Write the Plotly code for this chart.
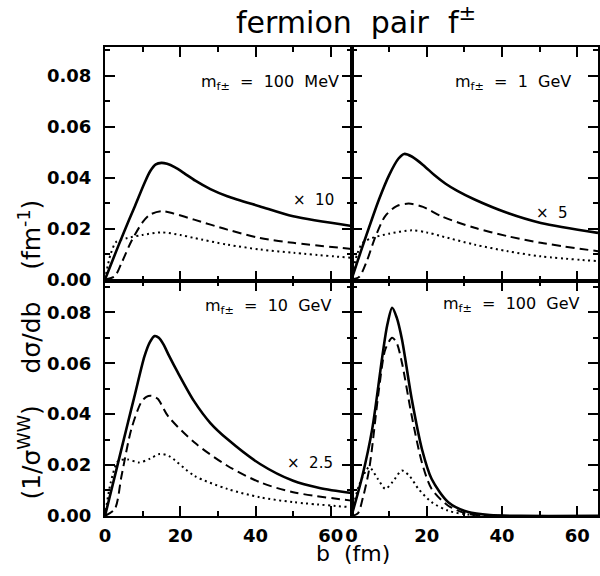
import plotly.graph_objects as go

# ---------------- data ----------------
# panel 1: m = 100 MeV
b1_solid = [0, 2, 5, 8, 10.5, 12, 13.5, 15, 16.5, 18.5, 21, 24, 28, 32.5, 41.2, 50, 65.5]
y1_solid = [0, 0.0075, 0.0185, 0.029, 0.0379, 0.0425, 0.0452, 0.0458, 0.0454, 0.0441, 0.0418, 0.0388, 0.0355, 0.0327, 0.0287, 0.0248, 0.021]
b1_dash = [0, 2.6, 4.4, 7, 10, 12, 15, 18, 23.7, 32.5, 41.2, 50, 65.5]
y1_dash = [0, 0.0013, 0.0065, 0.015, 0.0225, 0.0255, 0.0268, 0.026, 0.0235, 0.0196, 0.0163, 0.0144, 0.012]
b1_dot = [0, 1.5, 3, 6, 10, 15, 20, 23.7, 32.5, 41.2, 50, 65.5]
y1_dot = [0, 0.010, 0.0148, 0.0163, 0.0175, 0.0185, 0.0175, 0.0163, 0.0137, 0.0118, 0.0105, 0.0085]

# panel 2: m = 1 GeV
b2_solid = [0, 3, 7.3, 10, 12.5, 14, 16, 19, 22, 25, 28, 32.7, 41.5, 50.3, 65.5]
y2_solid = [0, 0.0133, 0.0314, 0.041, 0.0475, 0.0493, 0.0483, 0.045, 0.041, 0.0376, 0.0349, 0.0314, 0.0261, 0.0222, 0.0183]
b2_dash = [0, 2, 4, 6.4, 9, 12, 15.2, 19, 23.9, 32.7, 41.5, 50.3, 65.5]
y2_dash = [0, 0.001, 0.007, 0.017, 0.025, 0.0288, 0.0298, 0.0285, 0.0248, 0.0203, 0.017, 0.0144, 0.0111]
b2_dot = [0, 1.5, 3, 5.5, 10, 16, 20, 23.9, 32.7, 41.5, 50.3, 65.5]
y2_dot = [0, 0.010, 0.0145, 0.0163, 0.018, 0.0193, 0.0185, 0.017, 0.0137, 0.0111, 0.0091, 0.0072]

# panel 3: m = 10 GeV
b3_solid = [0, 3, 6.1, 8, 10.5, 12, 13.2, 14.3, 15.5, 17, 19.3, 23.7, 28, 32.5, 41.2, 50, 57, 65.5]
y3_solid = [0, 0.018, 0.0367, 0.048, 0.0628, 0.0685, 0.0707, 0.07, 0.0675, 0.063, 0.0565, 0.045, 0.0365, 0.0302, 0.0204, 0.0138, 0.011, 0.009]
b3_dash = [0, 2.6, 4.4, 7, 9.6, 11, 12.3, 14, 16.7, 23.7, 32.5, 41.2, 50, 65.5]
y3_dash = [0, 0.0027, 0.0158, 0.0341, 0.0446, 0.0468, 0.0472, 0.046, 0.0393, 0.0289, 0.0197, 0.0132, 0.0093, 0.006]
b3_dot = [0, 1.5, 3.5, 6, 9, 12, 14.5, 17, 23.7, 32.5, 41.2, 50, 65.5]
y3_dot = [0, 0.013, 0.0215, 0.0222, 0.021, 0.0225, 0.0243, 0.0235, 0.0158, 0.0106, 0.0073, 0.0054, 0.0034]

# panel 4: m = 100 GeV
b4_solid = [0, 2.9, 5.5, 8.2, 9.5, 10.8, 12, 13.4, 16, 18.7, 21.3, 25.7, 31, 36.8, 45, 65.5]
y4_solid = [0, 0.0158, 0.0341, 0.0628, 0.075, 0.0818, 0.078, 0.0694, 0.0459, 0.0263, 0.0145, 0.0054, 0.0015, 0.0003, 0, 0]
b4_dash = [0, 1.7, 3, 4.7, 7.3, 9, 10.8, 12, 13.4, 16, 18.7, 21.3, 25.7, 31, 40, 65.5]
y4_dash = [0, 0.001, 0.007, 0.0184, 0.0498, 0.0655, 0.070, 0.068, 0.0602, 0.0393, 0.021, 0.0106, 0.004, 0.0008, 0, 0]
b4_dot = [0, 2, 4.7, 7, 9, 11, 13.4, 15.5, 17.8, 21.3, 25.7, 31, 40, 65.5]
y4_dot = [0, 0.012, 0.0191, 0.0145, 0.0106, 0.0135, 0.0178, 0.0155, 0.0106, 0.0054, 0.002, 0.0005, 0, 0]

mass_labels = ["m<sub>f±</sub>\u00a0 =\u00a0 100\u00a0 MeV", "m<sub>f±</sub>\u00a0 =\u00a0 1\u00a0 GeV",
               "m<sub>f±</sub>\u00a0 =\u00a0 10\u00a0 GeV", "m<sub>f±</sub>\u00a0 =\u00a0 100\u00a0 GeV"]
scale_labels = ["×\u00a0 10", "×\u00a0 5", "×\u00a0 2.5", None]

x_ticks = [0, 20, 40, 60]
y_ticks = [0.00, 0.02, 0.04, 0.06, 0.08]

# ---------------- figure ----------------
W, H = 600, 576
FONT = "DejaVu Sans"

panels = [
    (b1_solid, y1_solid, b1_dash, y1_dash, b1_dot, y1_dot),
    (b2_solid, y2_solid, b2_dash, y2_dash, b2_dot, y2_dot),
    (b3_solid, y3_solid, b3_dash, y3_dash, b3_dot, y3_dot),
    (b4_solid, y4_solid, b4_dash, y4_dash, b4_dot, y4_dot),
]

fig = go.Figure()
for i, (bs, ys, bd, yd, bo, yo) in enumerate(panels):
    sfx = "" if i == 0 else str(i + 1)
    xa, ya = "x" + sfx, "y" + sfx
    fig.add_trace(go.Scatter(x=bo, y=yo, mode="lines", xaxis=xa, yaxis=ya,
                             line=dict(color="black", width=2, dash="2px,3.5px", shape="spline", smoothing=0.8),
                             showlegend=False, hoverinfo="skip"))
    fig.add_trace(go.Scatter(x=bd, y=yd, mode="lines", xaxis=xa, yaxis=ya,
                             line=dict(color="black", width=2, dash="9px,5px", shape="spline", smoothing=0.8),
                             showlegend=False, hoverinfo="skip"))
    fig.add_trace(go.Scatter(x=bs, y=ys, mode="lines", xaxis=xa, yaxis=ya,
                             line=dict(color="black", width=2.6, shape="spline", smoothing=0.8),
                             showlegend=False, hoverinfo="skip"))

# frame edges in pixels
TOP, MID, BOT = 47.5, 285.5, 525
xl = [100 / W, 349 / W]
xr = [349 / W, 598 / W]
yt = [1 - MID / H, 1 - TOP / H]
yb = [1 - BOT / H, 1 - MID / H]

common = dict(showline=True, linecolor="black", linewidth=2, mirror="allticks",
              ticks="inside", ticklen=10, tickwidth=1.5, tickcolor="black",
              showgrid=False, zeroline=False,
              tickfont=dict(family=FONT, size=18, color="black", weight="bold"))
xcommon = dict(common, range=[0, 65.5], tickvals=x_ticks, ticklabelstandoff=3,
               minor=dict(ticks="inside", ticklen=5, tickwidth=1.5, tickcolor="black", dtick=10, tick0=0, showgrid=False))
ycommon = dict(common, tickvals=y_ticks, tickformat=".2f", ticklabelstandoff=8,
               minor=dict(ticks="inside", ticklen=5, tickwidth=1.5, tickcolor="black", dtick=0.01, tick0=0, showgrid=False))

fig.update_layout(
    width=W, height=H,
    margin=dict(l=0, r=0, t=0, b=0),
    paper_bgcolor="white", plot_bgcolor="white",
    font=dict(family=FONT, color="black"),
    xaxis=dict(xcommon, domain=xl, anchor="y", showticklabels=False),
    yaxis=dict(ycommon, domain=yt, anchor="x", range=[-0.0004, 0.0914]),
    xaxis2=dict(xcommon, domain=xr, anchor="y2", showticklabels=False),
    yaxis2=dict(ycommon, domain=yt, anchor="x2", range=[-0.0004, 0.0914], showticklabels=False),
    xaxis3=dict(xcommon, domain=xl, anchor="y3"),
    yaxis3=dict(ycommon, domain=yb, anchor="x3", range=[0, 0.0925]),
    xaxis4=dict(xcommon, domain=xr, anchor="y4"),
    yaxis4=dict(ycommon, domain=yb, anchor="x4", range=[0, 0.0925], showticklabels=False),
)

def px(x, y):
    return x / W, 1 - y / H

ann = []
# title
tx, ty = px(354, 21)
ann.append(dict(x=tx, y=ty, xref="paper", yref="paper", showarrow=False,
                text="fermion\u00a0 pair\u00a0 f<sup>±</sup>", font=dict(size=30, family=FONT),
                xanchor="center", yanchor="middle"))
# x title
tx, ty = px(351, 563)
ann.append(dict(x=tx, y=ty, xref="paper", yref="paper", showarrow=False,
                text="b\u00a0 (fm)", font=dict(size=22, family=FONT),
                xanchor="center", yanchor="middle"))
# y title
tx, ty = px(25, 356)
ann.append(dict(x=tx, y=ty, xref="paper", yref="paper", showarrow=False, textangle=-90,
                text="(1/σ<sup>WW</sup>)\u00a0 \u00a0 dσ/db\u00a0 \u00a0 (fm<sup>-1</sup>)",
                font=dict(size=25, family=FONT), xanchor="center", yanchor="middle"))

mass_pos = [(338, 83.5), (573, 83.5), (330, 312), (582, 310)]
scale_pos = [(333, 204), (570, 216.5), (332, 471)]
for i, lab in enumerate(mass_labels):
    mx, my = px(*mass_pos[i])
    ann.append(dict(x=mx, y=my, xref="paper", yref="paper", showarrow=False, text=lab,
                    font=dict(size=16, family=FONT), xanchor="right", yanchor="middle"))
for i, lab in enumerate(scale_labels):
    if lab is None:
        continue
    sx, sy = px(*scale_pos[i])
    ann.append(dict(x=sx, y=sy, xref="paper", yref="paper", showarrow=False, text=lab,
                    font=dict(size=15, family=FONT), xanchor="right", yanchor="middle"))

fig.update_layout(annotations=ann)
fig.write_html("out.html", config={"displayModeBar": False},
               post_script="document.body.style.margin='0px';")
